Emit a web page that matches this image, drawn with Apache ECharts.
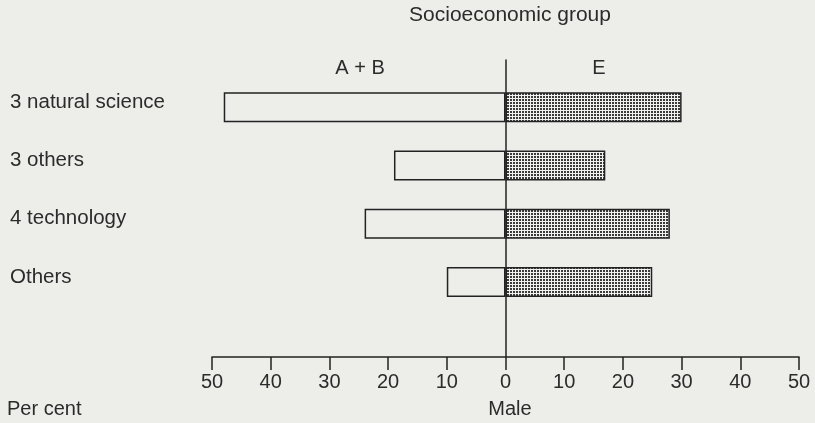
<!DOCTYPE html>
<html>
<head>
<meta charset="utf-8">
<script src="https://cdn.jsdelivr.net/npm/echarts@6/dist/echarts.min.js"></script>
<style>
html,body{margin:0;padding:0;background:#edeeea;}
#chart{width:815px;height:423px;}
</style>
</head>
<body>
<div id="chart"></div>
<script>
var categories = ['3 natural science', '3 others', '4 technology', 'Others'];
var abValues = [48, 19, 24, 10];   // socioeconomic group A + B (plotted leftwards)
var eValues = [30, 17, 28, 25];    // socioeconomic group E (plotted rightwards)
var tickValues = [-50, -40, -30, -20, -10, 0, 10, 20, 30, 40, 50];

var FONT = '"Liberation Sans", Arial, sans-serif';
var TXT = '#2b2b2b';
var BG = '#edeeea';

function makePattern() {
  var c = document.createElement('canvas');
  c.width = 6; c.height = 6;
  var g = c.getContext('2d');
  g.fillStyle = '#f2f2f0';
  g.fillRect(0, 0, 6, 6);
  g.fillStyle = '#3a3a3a';
  g.fillRect(0, 0, 2, 2);
  g.fillRect(3, 0, 2, 2);
  g.fillRect(0, 3, 2, 2);
  g.fillRect(3, 3, 2, 2);
  return c;
}

var chart = echarts.init(document.getElementById('chart'), null, {renderer: 'canvas'});
chart.setOption({
  backgroundColor: BG,
  animation: false,
  textStyle: {fontFamily: FONT},
  grid: [
    {left: 212, right: 16, top: 78, bottom: 112},
    {left: 212, right: 16, top: 60, bottom: 66}
  ],
  xAxis: [
    {gridIndex: 0, type: 'value', min: -50, max: 50, interval: 10, show: false},
    {gridIndex: 1, type: 'value', min: -50, max: 50, interval: 10,
     axisLine: {show: true, onZero: false, lineStyle: {color: '#222', width: 1.5}},
     axisTick: {show: true, inside: false, length: 13, lineStyle: {color: '#222', width: 1.5}},
     axisLabel: {show: true, margin: 15, color: TXT, fontSize: 20, fontFamily: FONT,
       formatter: function (v) { return String(Math.abs(v)); }},
     splitLine: {show: false}}
  ],
  yAxis: [
    {gridIndex: 0, type: 'category', data: categories, inverse: true,
     axisLine: {show: false}, axisTick: {show: false}, splitLine: {show: false},
     axisLabel: {show: true, align: 'left', verticalAlign: 'bottom', lineHeight: 10,
       margin: 202, color: TXT, fontSize: 20.5, fontFamily: FONT}},
    {gridIndex: 1, type: 'value', min: 0, max: 1,
     axisLine: {show: true, onZero: true, lineStyle: {color: '#222', width: 1.5}},
     axisTick: {show: false}, axisLabel: {show: false}, splitLine: {show: false}}
  ],
  series: [
    {name: 'A + B', type: 'bar', xAxisIndex: 0, yAxisIndex: 0,
     data: abValues.map(function (v) { return -v; }),
     barWidth: 30, barGap: '-100%',
     itemStyle: {color: BG, borderColor: '#222', borderWidth: 1.5}},
    {name: 'E', type: 'bar', xAxisIndex: 0, yAxisIndex: 0,
     data: eValues, barWidth: 30, barGap: '-100%',
     itemStyle: {color: {image: makePattern(), repeat: 'repeat'}, borderColor: '#222', borderWidth: 1.5}}
  ],
  graphic: [
    {type: 'text', x: 510, y: 15, style: {text: 'Socioeconomic group', font: '21px ' + FONT, fill: TXT, textAlign: 'center', textVerticalAlign: 'middle'}},
    {type: 'text', x: 360, y: 68, style: {text: 'A + B', font: '20px ' + FONT, fill: TXT, textAlign: 'center', textVerticalAlign: 'middle'}},
    {type: 'text', x: 599, y: 68, style: {text: 'E', font: '20px ' + FONT, fill: TXT, textAlign: 'center', textVerticalAlign: 'middle'}},
    {type: 'text', x: 7, y: 409, style: {text: 'Per cent', font: '20px ' + FONT, fill: TXT, textAlign: 'left', textVerticalAlign: 'middle'}},
    {type: 'text', x: 510, y: 409, style: {text: 'Male', font: '20px ' + FONT, fill: TXT, textAlign: 'center', textVerticalAlign: 'middle'}}
  ]
});
</script>
</body>
</html>
